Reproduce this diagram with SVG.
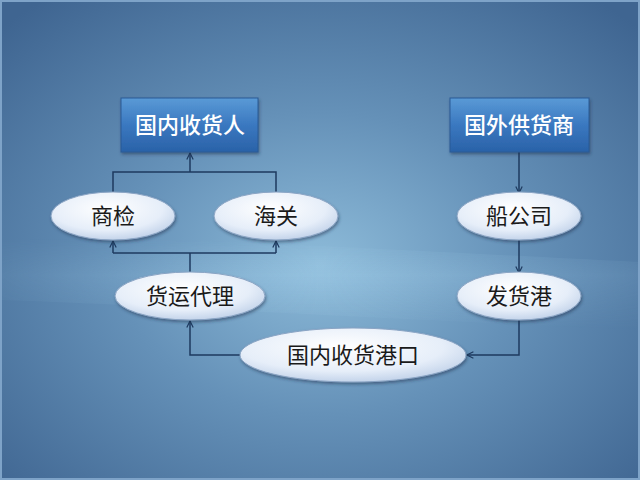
<svg xmlns="http://www.w3.org/2000/svg" width="640" height="480" viewBox="0 0 640 480">
<defs>
<radialGradient id="bg" cx="0.5" cy="0.55" r="0.7">
<stop offset="0" stop-color="#8dbbd9"/>
<stop offset="0.45" stop-color="#6591b8"/>
<stop offset="1" stop-color="#3f6591"/>
</radialGradient>
<linearGradient id="band" x1="0" y1="0" x2="0" y2="1">
<stop offset="0" stop-color="#a8d4ee" stop-opacity="0"/>
<stop offset="0.4" stop-color="#a8d4ee" stop-opacity="0.35"/>
<stop offset="1" stop-color="#a8d4ee" stop-opacity="0"/>
</linearGradient>
<linearGradient id="bandx" x1="0" y1="0" x2="1" y2="0">
<stop offset="0" stop-color="#fff" stop-opacity="0.2"/>
<stop offset="0.5" stop-color="#fff" stop-opacity="1"/>
<stop offset="1" stop-color="#fff" stop-opacity="0.3"/>
</linearGradient>
<mask id="bm"><rect x="0" y="0" width="640" height="480" fill="url(#bandx)"/></mask>
<linearGradient id="box" x1="0" y1="0" x2="0" y2="1">
<stop offset="0" stop-color="#5a9ad6"/>
<stop offset="0.5" stop-color="#3a78c0"/>
<stop offset="1" stop-color="#2a62a8"/>
</linearGradient>
<radialGradient id="ell" cx="0.45" cy="0.35" r="0.75">
<stop offset="0" stop-color="#ffffff"/>
<stop offset="0.6" stop-color="#e6eef9"/>
<stop offset="1" stop-color="#b3c7e3"/>
</radialGradient>
<marker id="arr" viewBox="0 0 10 10" refX="9" refY="5" markerWidth="8" markerHeight="8" orient="auto" markerUnits="userSpaceOnUse">
<path d="M1,1 L9,5 L1,9" fill="none" stroke="#1e3a5f" stroke-width="1.5"/>
</marker>
<filter id="sh" x="-20%" y="-20%" width="140%" height="150%">
<feDropShadow dx="1" dy="2" stdDeviation="1.5" flood-color="#1a3350" flood-opacity="0.5"/>
</filter>
</defs>
<style>
.box{fill:url(#box);stroke:#2a5a95;stroke-width:1;filter:url(#sh)}
.ell{fill:url(#ell);stroke:#8aa4c4;stroke-width:1;filter:url(#sh)}
.bt{font-family:"Noto Sans CJK SC",sans-serif;font-size:22px;fill:#ffffff;text-anchor:middle;font-weight:500}
.et{font-family:"Noto Sans CJK SC",sans-serif;font-size:22px;fill:#1a1a1a;text-anchor:middle}
.c{fill:none;stroke:#1e3a5f;stroke-width:1.5}
</style>
<rect x="0" y="0" width="640" height="480" fill="url(#bg)"/>
<path d="M0,240 C150,235 300,245 640,262 L640,330 C300,315 150,305 0,300 Z" fill="url(#band)" mask="url(#bm)"/>
<rect x="1" y="1" width="638" height="478" fill="none" stroke="#7ea3c8" stroke-width="2"/>
<g id="connectors">
<path class="c" d="M113,193 V172 H276 V193"/>
<path class="c" d="M190,172 V153" marker-end="url(#arr)"/>
<path class="c" d="M190,273 V253"/>
<path class="c" d="M113,253 H276"/>
<path class="c" d="M113,253 V241" marker-end="url(#arr)"/>
<path class="c" d="M276,253 V241" marker-end="url(#arr)"/>
<path class="c" d="M240,355 H190 V321" marker-end="url(#arr)"/>
<path class="c" d="M519,152 V193" marker-end="url(#arr)"/>
<path class="c" d="M519,240 V273" marker-end="url(#arr)"/>
<path class="c" d="M519,320 V355 H467" marker-end="url(#arr)"/>
</g>
<g id="n1"><rect class="box" x="121" y="98" width="137" height="54"/><text class="bt" x="190" y="133">国内收货人</text></g>
<g id="n2"><rect class="box" x="450" y="98" width="139" height="54"/><text class="bt" x="519" y="133">国外供货商</text></g>
<g id="n3"><ellipse class="ell" cx="113" cy="216" rx="62" ry="24"/><text class="et" x="113" y="224">商检</text></g>
<g id="n4"><ellipse class="ell" cx="276" cy="216" rx="62" ry="24"/><text class="et" x="276" y="224">海关</text></g>
<g id="n5"><ellipse class="ell" cx="519" cy="216" rx="62" ry="24"/><text class="et" x="519" y="224">船公司</text></g>
<g id="n6"><ellipse class="ell" cx="190" cy="296" rx="75" ry="24"/><text class="et" x="190" y="304">货运代理</text></g>
<g id="n7"><ellipse class="ell" cx="519" cy="296" rx="62" ry="24"/><text class="et" x="519" y="304">发货港</text></g>
<g id="n8"><ellipse class="ell" cx="353" cy="355" rx="113" ry="27"/><text class="et" x="353" y="363">国内收货港口</text></g>
</svg>
